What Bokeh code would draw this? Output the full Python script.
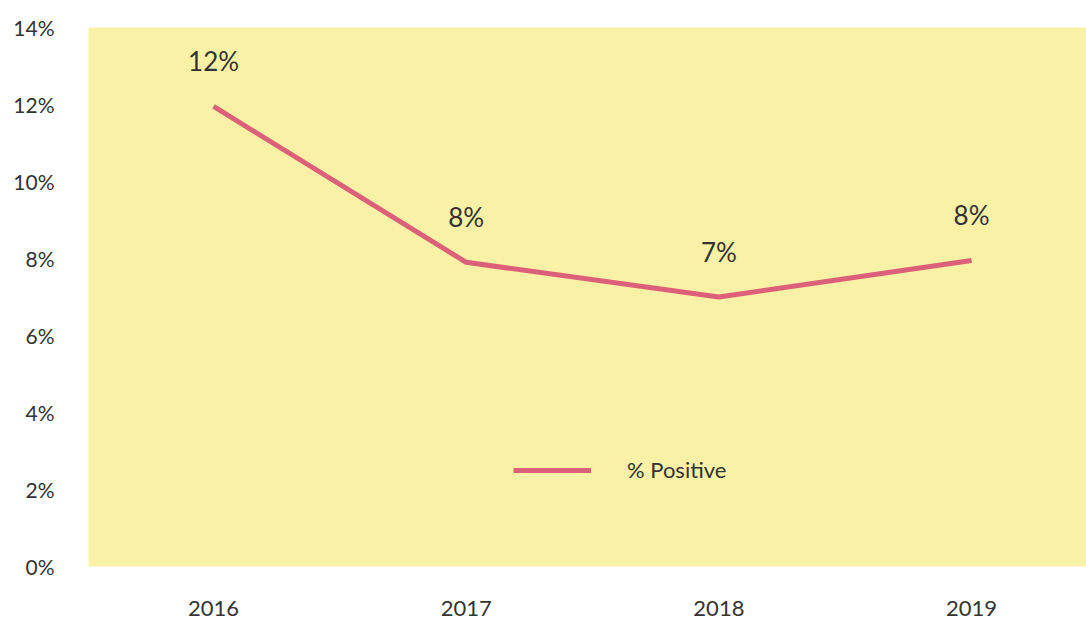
from bokeh.plotting import figure
from bokeh.models import (Range1d, FixedTicker, PrintfTickFormatter, ColumnDataSource,
                          LabelSet, Legend, LegendItem)
from bokeh.core.properties import value
from bokeh.embed import file_html
from bokeh.resources import INLINE

years = [2016, 2017, 2018, 2019]
pct_positive = [11.95, 7.9, 7.0, 7.95]
point_labels = ["12%", "8%", "7%", "8%"]
y_ticks = [0, 2, 4, 6, 8, 10, 12, 14]

FONT = "Lato"
LINE_COLOR = "#DC607A"
TEXT_COLOR = "#333333"

src = ColumnDataSource(dict(x=years, y=pct_positive, lab=point_labels))

p = figure(width=1086, height=621, output_backend="svg", toolbar_location=None,
           x_range=Range1d(2015.505, 2019.455), y_range=Range1d(0, 14),
           min_border_left=88, min_border_right=0, min_border_top=27, min_border_bottom=55)
p.background_fill_color = "#F8F1A6"
p.border_fill_color = "white"
p.outline_line_color = None
p.xgrid.grid_line_color = None
p.ygrid.grid_line_color = None

r = p.line("x", "y", source=src, line_color=LINE_COLOR, line_width=5)

labels = LabelSet(x="x", y="y", text="lab", source=src, y_offset=35,
                  text_align="center", text_baseline="alphabetic",
                  text_font=value(FONT), text_font_size="26px", text_color=TEXT_COLOR)
p.add_layout(labels)

p.xaxis.ticker = FixedTicker(ticks=years)
p.xaxis.axis_line_color = None
p.xaxis.major_tick_line_color = None
p.xaxis.minor_tick_line_color = None
p.xaxis.major_label_standoff = 28
p.xaxis.major_label_text_font = FONT
p.xaxis.major_label_text_font_size = "22px"
p.xaxis.major_label_text_color = TEXT_COLOR

p.yaxis.ticker = FixedTicker(ticks=y_ticks)
p.yaxis.formatter = PrintfTickFormatter(format="%d%%")
p.yaxis.axis_line_color = None
p.yaxis.major_tick_line_color = None
p.yaxis.minor_tick_line_color = None
p.yaxis.major_label_standoff = 28
p.yaxis.major_label_text_font = FONT
p.yaxis.major_label_text_font_size = "21px"
p.yaxis.major_label_text_color = TEXT_COLOR

legend = Legend(items=[LegendItem(label="% Positive", renderers=[r])],
                location=(425, 83), orientation="horizontal",
                glyph_width=78, glyph_height=20, label_standoff=36,
                padding=0, margin=0, border_line_color=None,
                background_fill_alpha=0,
                label_text_font=FONT, label_text_font_size="22px",
                label_text_color=TEXT_COLOR)
p.add_layout(legend)

open("out.html", "w").write(file_html(p, INLINE))
